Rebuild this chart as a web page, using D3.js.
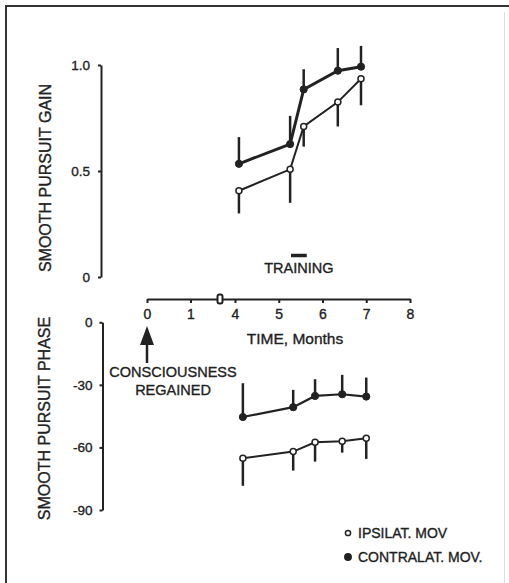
<!DOCTYPE html>
<html>
<head>
<meta charset="utf-8">
<script src="https://cdn.jsdelivr.net/npm/d3@7"></script>
<style>
    body { margin: 0; background: #fff; }
    svg { display: block; font-family: "Liberation Sans", Arial, sans-serif; }
    .axis path, .axis line { stroke: #222; stroke-width: 2; }
    .axis text { fill: #222; font-size: 13.5px; font-family: "Liberation Sans", Arial, sans-serif;
        stroke: #222; stroke-width: 0.35; }
    .label-text { fill: #222; font-size: 14.5px; stroke: #222; stroke-width: 0.35; }
</style>
</head>
<body>
<script>
// gain panel: months and means / SD (contra = filled, ipsi = open)
var gainMonths = [4.09, 5.26, 5.57, 6.35, 6.88];
var gainContra = [0.534, 0.627, 0.885, 0.973, 0.992];
var gainContraSD = [0.126, 0.133, 0.095, 0.107, 0.098];
var gainIpsi = [0.407, 0.508, 0.71, 0.825, 0.935];
var gainIpsiSD = [0.107, 0.158, 0.095, 0.115, 0.125];

// phase panel (degrees)
var phaseMonths = [4.18, 5.33, 5.83, 6.45, 7.0];
var phaseContra = [-45.4, -40.7, -35.3, -34.5, -35.6];
var phaseContraSD = [16.2, 8.3, 8.0, 9.3, 9.1];
var phaseIpsi = [-65.2, -62.0, -57.5, -57.0, -55.6];
var phaseIpsiSD = [13.2, 9.1, 9.3, 5.5, 9.9];

var monthTicks = [0, 1, 4, 5, 6, 7, 8];
var gainTicks = [0, 0.5, 1.0];
var phaseTicks = [0, -30, -60, -90];
var training = [5.28, 5.64];

var width = 509, height = 583;
var ink = "#222";

var svg = d3.select("body").append("svg")
    .attr("width", width)
    .attr("height", height);

// scanned frame
svg.append("line").attr("x1", 5).attr("y1", 6).attr("x2", 509).attr("y2", 6)
    .attr("stroke", "#333").attr("stroke-width", 2);
svg.append("line").attr("x1", 6).attr("y1", 5).attr("x2", 6).attr("y2", 583)
    .attr("stroke", "#333").attr("stroke-width", 2);
svg.append("line").attr("x1", 504.5).attr("y1", 12).attr("x2", 504.5).attr("y2", 583)
    .attr("stroke", "#ddd").attr("stroke-width", 1);

// broken time axis: 0-1 then jump to 4-8
var xScale = d3.scaleLinear()
    .domain([0, 1, 4, 8])
    .range([147, 190.5, 235, 410]);

var yGain = d3.scaleLinear().domain([0, 1]).range([277, 65]);
var yPhase = d3.scaleLinear().domain([-90, 0]).range([510, 322.3]);

svg.append("g")
    .attr("class", "axis")
    .attr("transform", "translate(101,0)")
    .call(d3.axisLeft(yGain).tickValues(gainTicks).tickSize(3).tickSizeOuter(0).tickPadding(8)
        .tickFormat(function(d) { return d === 0 ? "0" : d3.format(".1f")(d); }));

svg.append("g")
    .attr("class", "axis")
    .attr("transform", "translate(102.5,0)")
    .call(d3.axisLeft(yPhase).tickValues(phaseTicks).tickSize(3).tickSizeOuter(0).tickPadding(7)
        .tickFormat(function(d) { return String(d); }));

var xAxis = svg.append("g")
    .attr("class", "axis")
    .attr("transform", "translate(0,299)")
    .call(d3.axisBottom(xScale).tickValues(monthTicks).tickSize(4).tickSizeOuter(0).tickPadding(6));
xAxis.selectAll("text").style("font-size", "14px");

// axis break mark
svg.append("rect")
    .attr("x", 217.5).attr("y", 294.5)
    .attr("width", 5).attr("height", 9)
    .attr("rx", 2)
    .attr("fill", "#fff")
    .attr("stroke", ink)
    .attr("stroke-width", 2);

svg.append("text")
    .attr("class", "label-text")
    .attr("x", 295).attr("y", 344)
    .attr("text-anchor", "middle")
    .style("font-size", "15.5px")
    .text("TIME, Months");

svg.append("text")
    .attr("class", "label-text")
    .attr("transform", "translate(45,178) rotate(-90)")
    .attr("text-anchor", "middle")
    .attr("dominant-baseline", "central")
    .style("font-size", "16px")
    .text("SMOOTH PURSUIT GAIN");

svg.append("text")
    .attr("class", "label-text")
    .attr("transform", "translate(44,418.5) rotate(-90)")
    .attr("text-anchor", "middle")
    .attr("dominant-baseline", "central")
    .style("font-size", "16px")
    .text("SMOOTH PURSUIT PHASE");

// training bar
svg.append("line")
    .attr("x1", xScale(training[0])).attr("x2", xScale(training[1]))
    .attr("y1", 255.5).attr("y2", 255.5)
    .attr("stroke", ink).attr("stroke-width", 3.5);
svg.append("text")
    .attr("class", "label-text")
    .attr("x", xScale((training[0] + training[1]) / 2)).attr("y", 273)
    .attr("text-anchor", "middle")
    .style("font-size", "14.5px")
    .text("TRAINING");

// consciousness regained arrow at month 0
var ax = xScale(0);
svg.append("line")
    .attr("x1", ax).attr("x2", ax).attr("y1", 363).attr("y2", 340)
    .attr("stroke", ink).attr("stroke-width", 2.5);
svg.append("path")
    .attr("d", "M" + ax + ",326 L" + (ax - 7) + ",345 L" + (ax + 7) + ",345 Z")
    .attr("fill", ink);
svg.append("text")
    .attr("class", "label-text")
    .attr("x", 173).attr("y", 377)
    .attr("text-anchor", "middle")
    .text("CONSCIOUSNESS");
svg.append("text")
    .attr("class", "label-text")
    .attr("x", 173).attr("y", 395)
    .attr("text-anchor", "middle")
    .text("REGAINED");

function series(months, means, sd, yScale, filled, up, lineWidth) {
    var pts = months.map(function(m, i) {
        return {month: m, value: means[i], sd: sd[i]};
    });
    var line = d3.line()
        .x(function(d) { return xScale(d.month); })
        .y(function(d) { return yScale(d.value); });

    // one-sided error bars: filled up, open down
    svg.selectAll(null)
        .data(pts)
        .enter()
        .append("line")
        .attr("x1", function(d) { return xScale(d.month); })
        .attr("x2", function(d) { return xScale(d.month); })
        .attr("y1", function(d) { return yScale(d.value); })
        .attr("y2", function(d) { return yScale(up ? d.value + d.sd : d.value - d.sd); })
        .attr("stroke", ink)
        .attr("stroke-width", 2.5);

    svg.append("path")
        .attr("d", line(pts))
        .attr("fill", "none")
        .attr("stroke", ink)
        .attr("stroke-width", lineWidth);

    svg.selectAll(null)
        .data(pts)
        .enter()
        .append("circle")
        .attr("cx", function(d) { return xScale(d.month); })
        .attr("cy", function(d) { return yScale(d.value); })
        .attr("r", filled ? 3.6 : 3)
        .attr("fill", filled ? ink : "#fff")
        .attr("stroke", ink)
        .attr("stroke-width", filled ? 1 : 1.5);
}

series(gainMonths, gainContra, gainContraSD, yGain, true, true, 3);
series(gainMonths, gainIpsi, gainIpsiSD, yGain, false, false, 2);
series(phaseMonths, phaseContra, phaseContraSD, yPhase, true, true, 2.2);
series(phaseMonths, phaseIpsi, phaseIpsiSD, yPhase, false, false, 2);

// legend
var legend = [
    {label: "IPSILAT. MOV", filled: false, y: 533},
    {label: "CONTRALAT. MOV.", filled: true, y: 557}
];
svg.selectAll(".legend-dot")
    .data(legend)
    .enter()
    .append("circle")
    .attr("cx", 348)
    .attr("cy", function(d) { return d.y; })
    .attr("r", function(d) { return d.filled ? 3.2 : 2.6; })
    .attr("fill", function(d) { return d.filled ? ink : "#fff"; })
    .attr("stroke", ink)
    .attr("stroke-width", 1.5);
svg.selectAll(".legend-text")
    .data(legend)
    .enter()
    .append("text")
    .attr("class", "label-text")
    .attr("x", 358)
    .attr("y", function(d) { return d.y + 5; })
    .style("font-size", "14px")
    .text(function(d) { return d.label; });
</script>
</body>
</html>
